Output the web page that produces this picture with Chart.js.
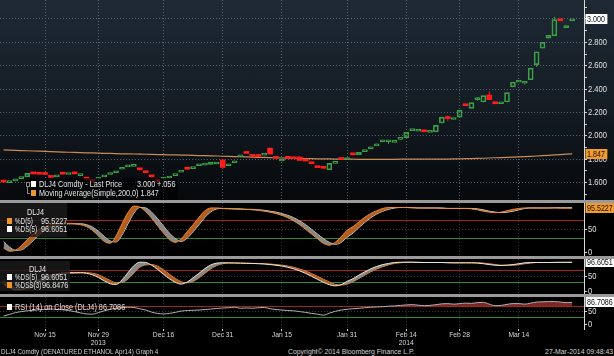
<!DOCTYPE html>
<html><head><meta charset="utf-8">
<script src="https://cdn.jsdelivr.net/npm/chart.js"></script>
<style>
html,body{margin:0;padding:0;background:#000;}
#wrap{position:relative;width:614px;height:356px;overflow:hidden;background:#000;font-family:'Liberation Sans Narrow','Arial Narrow','Liberation Sans',sans-serif;}
.pane{position:absolute;left:0;width:614px;}
canvas{display:block;}
.sep{position:absolute;left:0;width:614px;height:3px;background:#9a9a9a;}
.t{position:absolute;font-size:9px;line-height:9px;height:9px;white-space:pre;color:#e2e2e2;transform:scaleX(0.81);transform-origin:0 50%;}
.n{transform:scaleX(0.7);}
.f{position:absolute;font-size:8px;line-height:9px;height:9px;white-space:pre;color:#d0d0d0;transform:scaleX(0.86);transform-origin:0 50%;}
.fl{transform:scaleX(0.79);}
.fr{transform-origin:100% 50%;}
.sq{position:absolute;width:5px;height:6px;}
.bx{position:absolute;}
</style></head>
<body><div id="wrap">
<div class="pane" style="top:0;height:200px;background:linear-gradient(#1e2934 0%,#151d25 50%,#06090c 100%)"><canvas id="c1" width="614" height="200"></canvas></div>
<div class="sep" style="top:200px"></div>
<div class="pane" style="top:203px;height:53px"><canvas id="c2" width="614" height="53"></canvas></div>
<div class="sep" style="top:256px"></div>
<div class="pane" style="top:259px;height:35px"><canvas id="c3" width="614" height="35"></canvas></div>
<div class="sep" style="top:294px"></div>
<div class="pane" style="top:297px;height:50px"><canvas id="c4" width="614" height="50"></canvas></div>

<!-- main legend -->
<div class="bx" style="left:25px;top:178px;width:153px;height:22px;background:rgba(0,0,0,0.6)"></div>
<div class="bx" style="left:26px;top:182px;width:2px;height:3px;border:1px solid #8a8a8a"></div>
<div class="bx" style="left:27px;top:187px;width:2px;height:6px;border-left:1px solid #8a8a8a;border-bottom:1px solid #8a8a8a"></div>
<div class="sq" style="left:31px;top:181px;background:#fff"></div>
<div class="sq" style="left:31px;top:190px;background:#f0952a"></div>
<div class="t" style="left:39px;top:179.5px">DLJ4 Comdty - Last Price</div>
<div class="t" id="lgLast" style="left:137px;top:179.5px"></div>
<div class="t" id="lgChg" style="left:157px;top:179.5px"></div>
<div class="t" id="lgMa" style="left:39px;top:188.5px"></div>

<!-- panel 2 legend -->
<div class="bx" style="left:0;top:203px;width:67px;height:34px;background:rgba(28,28,28,0.8)"></div>
<div class="t" style="left:27px;top:207.5px">DLJ4</div>
<div class="sq" style="left:7px;top:218px;background:#f0952a"></div>
<div class="t n" style="left:15px;top:216.5px">%D(5)</div>
<div class="t" id="lgD" style="left:41px;top:216.5px"></div>
<div class="sq" style="left:7px;top:226px;background:#fff"></div>
<div class="t n" style="left:15px;top:224.5px">%DS(5)</div>
<div class="t" id="lgDS" style="left:41px;top:224.5px"></div>

<!-- panel 3 legend -->
<div class="bx" style="left:0;top:261px;width:70px;height:30px;background:rgba(28,28,28,0.8)"></div>
<div class="t" style="left:29px;top:264.5px">DLJ4</div>
<div class="sq" style="left:7px;top:274px;background:#fff"></div>
<div class="t n" style="left:15px;top:272.5px">%DS(5)</div>
<div class="t" id="lgDS2" style="left:41px;top:272.5px"></div>
<div class="sq" style="left:7px;top:282px;background:#f0952a"></div>
<div class="t n" style="left:15px;top:280.5px">%DSS(3)</div>
<div class="t" id="lgDSS" style="left:42px;top:280.5px"></div>

<!-- panel 4 legend -->
<div class="sq" style="left:7px;top:304px;background:#fff"></div>
<div class="t" id="lgRsi" style="left:15px;top:302.5px"></div>

<!-- footer -->
<div class="f fl" style="left:1px;top:346.5px">DLJ4 Comdty (DENATURED ETHANOL Apr14) Graph 4</div>
<div class="f" style="left:288px;top:346.5px">Copyright© 2014 Bloomberg Finance L.P.</div>
<div class="f fr" style="right:1px;top:346.5px">27-Mar-2014 09:48:43</div>
</div>
<script>
const dates = ['Nov 6','Nov 7','Nov 8','Nov 11','Nov 12','Nov 13','Nov 14','Nov 15','Nov 18','Nov 19','Nov 20','Nov 21','Nov 22','Nov 25','Nov 26','Nov 27','Nov 29',
'Dec 2','Dec 3','Dec 4','Dec 5','Dec 6','Dec 9','Dec 10','Dec 11','Dec 12','Dec 13','Dec 16','Dec 17','Dec 18','Dec 19','Dec 20','Dec 23','Dec 24','Dec 26','Dec 27','Dec 30','Dec 31',
'Jan 2','Jan 3','Jan 6','Jan 7','Jan 8','Jan 9','Jan 10','Jan 13','Jan 14','Jan 15','Jan 16','Jan 17','Jan 21','Jan 22','Jan 23','Jan 24','Jan 27','Jan 28','Jan 29','Jan 30','Jan 31',
'Feb 3','Feb 4','Feb 5','Feb 6','Feb 7','Feb 10','Feb 11','Feb 12','Feb 13','Feb 14','Feb 18','Feb 19','Feb 20','Feb 21','Feb 24','Feb 25','Feb 26','Feb 27','Feb 28',
'Mar 3','Mar 4','Mar 5','Mar 6','Mar 7','Mar 10','Mar 11','Mar 12','Mar 13','Mar 14','Mar 17','Mar 18','Mar 19','Mar 20','Mar 21','Mar 24','Mar 25','Mar 26','Mar 27'];

const open = [1.615,1.600,1.615,1.635,1.650,1.680,1.680,1.678,1.655,1.650,
 1.680,1.670,1.685,1.660,1.640,1.625,1.630,1.650,1.670,1.685,
 1.715,1.735,1.740,1.720,1.695,1.660,1.625,1.630,1.640,1.660,
 1.690,1.725,1.720,1.745,1.750,1.755,1.760,1.795,1.745,1.770,
 1.820,1.865,1.835,1.832,1.835,1.895,1.815,1.785,1.815,1.820,
 1.820,1.800,1.775,1.735,1.730,1.710,1.765,1.805,1.798,1.845,
 1.840,1.865,1.890,1.915,1.950,1.950,1.945,1.970,1.985,2.045,
 2.040,2.050,2.030,2.035,2.110,2.155,2.140,2.160,2.270,2.235,
 2.310,2.290,2.350,2.285,2.275,2.290,2.420,2.460,2.450,2.480,
 2.610,2.750,2.835,2.855,3.000,2.925,2.985];
const high = [1.618,1.607,1.628,1.648,1.683,1.682,1.682,1.680,1.657,1.660,
 1.682,1.680,1.687,1.670,1.642,1.627,1.642,1.664,1.687,1.700,
 1.722,1.742,1.747,1.722,1.697,1.662,1.627,1.642,1.647,1.672,
 1.702,1.727,1.732,1.752,1.757,1.777,1.767,1.800,1.759,1.787,
 1.837,1.867,1.837,1.834,1.847,1.900,1.817,1.799,1.817,1.822,
 1.825,1.802,1.777,1.737,1.732,1.767,1.780,1.807,1.807,1.847,
 1.862,1.879,1.907,1.932,1.967,1.957,1.957,1.987,2.032,2.054,
 2.049,2.052,2.036,2.092,2.162,2.175,2.148,2.222,2.272,2.287,
 2.330,2.347,2.380,2.287,2.292,2.372,2.462,2.472,2.460,2.582,
 2.722,2.802,2.862,3.020,3.002,2.947,3.002];
const low = [1.600,1.598,1.612,1.632,1.648,1.672,1.670,1.668,1.642,1.648,
 1.670,1.668,1.673,1.658,1.628,1.610,1.628,1.648,1.668,1.683,
 1.713,1.733,1.738,1.708,1.683,1.648,1.608,1.628,1.638,1.658,
 1.688,1.713,1.718,1.743,1.748,1.753,1.758,1.728,1.743,1.768,
 1.818,1.848,1.823,1.822,1.833,1.843,1.806,1.783,1.806,1.803,
 1.788,1.783,1.760,1.726,1.721,1.708,1.763,1.796,1.796,1.836,
 1.838,1.863,1.888,1.913,1.948,1.930,1.943,1.968,1.983,2.043,
 2.038,2.033,2.028,2.033,2.108,2.130,2.138,2.158,2.256,2.233,
 2.300,2.288,2.308,2.273,2.273,2.288,2.418,2.458,2.440,2.478,
 2.590,2.748,2.833,2.853,2.983,2.923,2.983];
const close = [1.605,1.605,1.625,1.645,1.680,1.675,1.672,1.670,1.645,1.657,
 1.673,1.678,1.675,1.668,1.630,1.612,1.640,1.662,1.685,1.698,
 1.720,1.740,1.745,1.710,1.685,1.650,1.610,1.640,1.645,1.670,
 1.700,1.715,1.730,1.750,1.755,1.775,1.765,1.730,1.757,1.785,
 1.835,1.850,1.825,1.824,1.845,1.845,1.808,1.797,1.808,1.805,
 1.790,1.785,1.762,1.728,1.723,1.765,1.778,1.798,1.805,1.838,
 1.860,1.877,1.905,1.930,1.965,1.955,1.955,1.985,2.030,2.052,
 2.047,2.035,2.034,2.090,2.160,2.148,2.146,2.220,2.258,2.285,
 2.316,2.345,2.310,2.275,2.290,2.370,2.460,2.470,2.456,2.580,
 2.720,2.800,2.860,2.995,2.985,2.944,3.000];
const ma200 = [1.880,1.878,1.876,1.874,1.873,1.871,1.869,1.867,1.865,1.864,
 1.862,1.860,1.859,1.857,1.855,1.854,1.852,1.851,1.850,1.849,
 1.847,1.846,1.845,1.844,1.843,1.842,1.840,1.839,1.838,1.837,
 1.836,1.835,1.834,1.832,1.831,1.829,1.828,1.826,1.825,1.823,
 1.822,1.820,1.819,1.817,1.816,1.814,1.813,1.811,1.810,1.808,
 1.806,1.806,1.805,1.804,1.804,1.803,1.802,1.802,1.801,1.801,
 1.800,1.800,1.800,1.800,1.800,1.800,1.800,1.801,1.801,1.801,
 1.801,1.801,1.802,1.802,1.802,1.802,1.803,1.804,1.805,1.806,
 1.808,1.809,1.811,1.813,1.815,1.816,1.818,1.820,1.823,1.825,
 1.828,1.831,1.834,1.837,1.840,1.844,1.847];
const pctD = [10,3,5,15,28,40,50,56,60,62,
 63,63,62,60,56,48,36,24,20,36,
 62,86,100,98,88,74,58,42,28,22,
 30,45,60,76,90,96,96,95,94,94,
 93,93,92,91,89,87,84,80,75,68,
 60,50,40,30,20,16,22,34,48,56,
 66,76,84,90,95,97,97,97,97,96,
 96,96,96,96,95,95,95,95,95,94,
 92,89,87,86,87,90,93,95,96,96,
 96,96,96,96,95.5,95.5,95.5227];
const pctDS = [24,12,5,6,14,26,38,48,54,58,
 61,62,62,62,60,55,46,35,25,23,
 38,62,85,97,96,87,73,57,42,30,
 24,31,45,60,76,88,94,95,95,94,
 94,93,93,92,91,89,87,84,80,75,
 68,60,50,40,30,22,18,22,33,42,
 54,65,75,83,89,93,96,97,97,97,
 96,96,96,96,96,95,95,95,95,95,
 94,92,89,87,86,87,89,92,95,96,
 96,96,96,96.5,96.6,96.6,96.6051];
const pctDSS = [32,22,12,7,8,15,26,37,46,53,
 57,60,61,62,62,60,55,46,36,28,
 29,41,61,80,88,89,84,72,57,43,
 32,28,33,45,60,75,86,92,94,95,
 94,94,93,93,92,91,89,87,84,80,
 74,68,59,50,40,31,23,21,24,32,
 43,54,65,74,82,88,93,95,97,97,
 97,96,96,96,96,96,95,95,95,95,
 95,94,92,89,87,87,87,89,92,94,
 96,96,96,96,96.4,96.6,96.8476];
const rsi = [34,40,47,51,54,56,58,60,61,59,
 58,55,51,46,42,41,47,54,60,64,
 66,68,67,62,57,49,44,42,44,48,
 53,55,56,57,59,61,63,65,66,68,
 64,65,64,66,67,62,59,57,55,54,
 51,48,44,41,37,45,52,57,60,62,
 64,66,68,69,70,72,73,75,77,78,
 76,74,75,78,81,82,80,82,84,83,
 86,87,80,74,75,79,82,82,80,84,
 88,89,90,90,88,86,86.7086];

const tickDates = ['Nov 15','Nov 29','Dec 16','Dec 31','Jan 15','Jan 31','Feb 14','Feb 28','Mar 14'];
const yearTicks = ['Nov 29','Feb 14'];
const yearLabels = ['2013','2014'];
const priceTicks = [1.6,1.8,2.0,2.2,2.4,2.6,2.8,3.0];
const priceMinorTicks = [1.5,1.7,1.9,2.1,2.3,2.5,2.7,2.9,3.1];
const oscTicks = [0,50];
const stochLevels = [30,70];
const rsiLevels = [30,70];

const F = "'Liberation Sans Narrow','Arial Narrow','Liberation Sans',sans-serif";
const SX = 0.84;   // horizontal condensing of canvas text
const GREEN = '#3c9e46', RED = '#ff1c1c';
const X_MIN = -0.6, X_MAX = 98.0;
const tickIdx = tickDates.map(d => dates.indexOf(d));
const isUp = i => close[i] >= open[i];
const pts = arr => arr.map((v, i) => ({x: i, y: v}));

function xScale(showLabels, gridColor) {
  return {
    type: 'linear', min: X_MIN, max: X_MAX, offset: false,
    grid: {color: gridColor, offset: false, drawTicks: showLabels, tickLength: 2, tickColor: '#cfcfcf', lineWidth: 1},
    border: {display: false, dash: [1, 2]},
    ticks: {display: showLabels, autoSkip: false, maxRotation: 0, color: '#d8d8d8', padding: 0,
      font: {family: F, size: 8, lineHeight: 0.95},
      callback: v => { const d = dates[v]; const k = yearTicks.indexOf(d); return k >= 0 ? [d, yearLabels[k]] : d; }},
    afterBuildTicks: s => { s.ticks = tickIdx.map(v => ({value: v})); },
    afterFit: s => { s.height = showLabels ? 18 : 0; s.paddingLeft = 0; s.paddingRight = 0; }
  };
}
function yScale(min, max, tickVals, labelFn, gridColorFn, dashFn, tickColorFn) {
  const sorted = tickVals.slice().sort((a, b) => a - b);
  return {
    position: 'right', min, max, beginAtZero: false,
    afterBuildTicks: s => { s.ticks = sorted.map(v => ({value: v})); },
    ticks: {autoSkip: false, color: '#e0e0e0', padding: 1, font: {family: F, size: 9}, callback: labelFn},
    grid: {color: gridColorFn, tickLength: 3, tickColor: tickColorFn, lineWidth: 1},
    border: {display: true, color: '#d9d9d9', width: 1, dash: dashFn},
    afterFit: s => { s.width = 30; s.paddingTop = 0; s.paddingBottom = 0; }
  };
}
// condense canvas text horizontally around its anchor point
const narrowPlugin = {
  id: 'narrowText',
  beforeInit(chart) {
    const ctx = chart.ctx;
    const orig = CanvasRenderingContext2D.prototype.fillText;
    ctx.fillText = function (text, x, y, maxWidth) {
      this.save();
      this.translate(x, y);
      this.scale(SX, 1);
      if (maxWidth !== undefined && maxWidth !== null) orig.call(this, text, 0, 0, maxWidth / SX);
      else orig.call(this, text, 0, 0);
      this.restore();
    };
  }
};
const boxPlugin = {
  id: 'valBoxes',
  afterDraw(chart, args, opts) {
    const ctx = chart.ctx, ys = chart.scales.y, x0 = chart.chartArea.right + 1.5;
    ctx.save();
    ctx.font = '8.5px ' + F; ctx.textBaseline = 'middle'; ctx.textAlign = 'left';
    (opts.items || []).forEach(it => {
      const y = Math.round(ys.getPixelForValue(it.value));
      const w = ctx.measureText(it.text).width * SX + 4;
      ctx.fillStyle = it.bg; ctx.fillRect(x0, y - 5, w, 10);
      ctx.fillStyle = it.fg; ctx.fillText(it.text, x0 + 1.5, y + 0.5);
    });
    ctx.restore();
  }
};
const base = {responsive: false, animation: false, events: [], layout: {padding: 0}};
const near = (a, b) => Math.abs(a - b) < 1e-6;

// ---- price panel
new Chart(document.getElementById('c1'), {
  type: 'bar',
  data: {datasets: [
    {type: 'line', data: pts(ma200), borderColor: '#c98b58', borderWidth: 1.2, pointRadius: 0, order: 4},
    {type: 'bar', data: high.map((h, i) => ({x: i, y: [Math.max(open[i], close[i]), h]})), barThickness: 1, inflateAmount: 0,
      backgroundColor: c => isUp(c.dataIndex) ? GREEN : RED, borderWidth: 0, grouped: false, order: 3},
    {type: 'bar', data: low.map((l, i) => ({x: i, y: [l, Math.min(open[i], close[i])]})), barThickness: 1, inflateAmount: 0,
      backgroundColor: c => isUp(c.dataIndex) ? GREEN : RED, borderWidth: 0, grouped: false, order: 2},
    {type: 'bar', data: open.map((o, i) => ({x: i, y: [o, close[i]]})), barThickness: 5, minBarLength: 2,
      backgroundColor: c => isUp(c.dataIndex) ? 'rgba(0,0,0,0)' : RED,
      borderColor: c => isUp(c.dataIndex) ? GREEN : RED,
      borderWidth: c => isUp(c.dataIndex) ? 1 : 0, borderSkipped: false, grouped: false, order: 1}
  ]},
  options: Object.assign({}, base, {
    scales: {
      x: xScale(false, '#56616b'),
      y: yScale(1.4517, 3.1625, priceTicks.concat(priceMinorTicks),
        v => priceTicks.some(t => near(t, v)) ? v.toFixed(3) : '',
        c => (c.tick && priceTicks.some(t => near(t, c.tick.value))) ? '#55606a' : 'rgba(0,0,0,0)',
        c => c.tick ? [1, 2] : [],
        '#d0d0d0')
    },
    plugins: {legend: {display: false}, tooltip: {enabled: false},
      valBoxes: {items: [
        {value: close[close.length - 1], text: close[close.length - 1].toFixed(3), bg: '#ffffff', fg: '#111'},
        {value: ma200[ma200.length - 1], text: ma200[ma200.length - 1].toFixed(3), bg: '#f39a2c', fg: '#111'}
      ]}}
  }),
  plugins: [narrowPlugin, boxPlugin]
});

function oscY(min, max, levels) {
  return yScale(min, max, oscTicks.concat(levels),
    v => oscTicks.includes(v) ? String(v) : '',
    c => { if (!c.tick) return 'rgba(0,0,0,0)'; const v = c.tick.value;
      if (v === levels[1]) return '#a8221f'; if (v === levels[0]) return '#2c8a33';
      if (v === 50) return '#3a3a3a'; return 'rgba(0,0,0,0)'; },
    c => (c.tick && c.tick.value === 50) ? [1, 2] : [],
    c => (c.tick && oscTicks.includes(c.tick.value)) ? '#d0d0d0' : 'rgba(0,0,0,0)');
}
const ORANGE_FILL = 'rgba(188,98,36,0.95)', GRAY_FILL = 'rgba(150,150,150,0.9)';

// ---- stochastic %D / %DS
new Chart(document.getElementById('c2'), {
  type: 'line',
  data: {datasets: [
    {data: pts(pctD), borderColor: '#f08a24', borderWidth: 1, pointRadius: 0, cubicInterpolationMode: 'monotone',
      fill: {target: 1, above: ORANGE_FILL, below: GRAY_FILL}},
    {data: pts(pctDS), borderColor: '#e6e6e6', borderWidth: 1, pointRadius: 0, cubicInterpolationMode: 'monotone', fill: false}
  ]},
  options: Object.assign({}, base, {
    scales: {x: xScale(false, '#333'), y: oscY(-7.3, 106.7, stochLevels)},
    plugins: {legend: {display: false}, tooltip: {enabled: false},
      valBoxes: {items: [{value: pctD[pctD.length - 1], text: pctD[pctD.length - 1].toFixed(4), bg: '#f39a2c', fg: '#111'}]}}
  }),
  plugins: [narrowPlugin, boxPlugin]
});

// ---- stochastic %DS / %DSS
new Chart(document.getElementById('c3'), {
  type: 'line',
  data: {datasets: [
    {data: pts(pctDS), borderColor: '#e6e6e6', borderWidth: 1, pointRadius: 0, cubicInterpolationMode: 'monotone',
      fill: {target: 1, above: GRAY_FILL, below: ORANGE_FILL}},
    {data: pts(pctDSS), borderColor: '#f08a24', borderWidth: 1, pointRadius: 0, cubicInterpolationMode: 'monotone', fill: false}
  ]},
  options: Object.assign({}, base, {
    scales: {x: xScale(false, '#333'), y: oscY(-9, 107.7, stochLevels)},
    plugins: {legend: {display: false}, tooltip: {enabled: false},
      valBoxes: {items: [{value: pctDS[pctDS.length - 1], text: pctDS[pctDS.length - 1].toFixed(4), bg: '#ffffff', fg: '#111'}]}}
  }),
  plugins: [narrowPlugin, boxPlugin]
});

// ---- RSI
new Chart(document.getElementById('c4'), {
  type: 'line',
  data: {datasets: [
    {data: pts(rsi), borderColor: '#b0b0b0', borderWidth: 1, pointRadius: 0, cubicInterpolationMode: 'monotone',
      fill: {value: rsiLevels[1], above: 'rgba(150,44,44,0.85)', below: 'rgba(0,0,0,0)'}}
  ]},
  options: Object.assign({}, base, {
    scales: {x: xScale(true, '#333'), y: oscY(-16.6, 107.7, rsiLevels)},
    plugins: {legend: {display: false}, tooltip: {enabled: false},
      valBoxes: {items: [{value: rsi[rsi.length - 1], text: rsi[rsi.length - 1].toFixed(4), bg: '#ffffff', fg: '#111'}]}}
  }),
  plugins: [narrowPlugin, boxPlugin]
});

// ---- legend texts from data
const n = close.length - 1;
const chg = close[n] - close[n - 1];
document.getElementById('lgLast').textContent = close[n].toFixed(3);
document.getElementById('lgChg').textContent = (chg >= 0 ? '+' : '-') + Math.abs(chg).toFixed(3).replace(/^0/, '');
document.getElementById('lgMa').textContent = 'Moving Average(Simple,200,0) ' + ma200[n].toFixed(3);
document.getElementById('lgD').textContent = pctD[n].toFixed(4);
document.getElementById('lgDS').textContent = pctDS[n].toFixed(4);
document.getElementById('lgDS2').textContent = pctDS[n].toFixed(4);
document.getElementById('lgDSS').textContent = pctDSS[n].toFixed(4);
document.getElementById('lgRsi').textContent = 'RSI (14) on Close (DLJ4) ' + rsi[n].toFixed(4);
</script>
</body></html>
